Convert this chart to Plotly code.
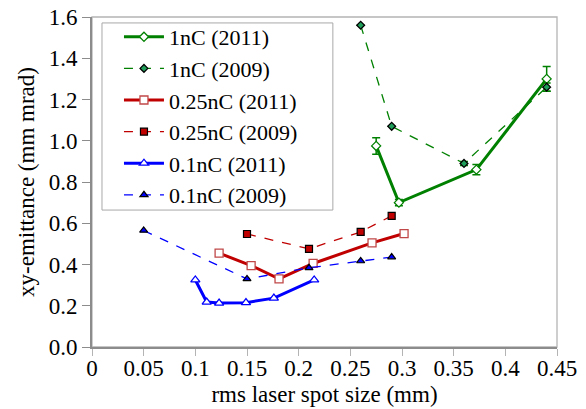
import plotly.graph_objects as go

# Emittance vs. rms laser spot size for three bunch charges, 2011 and 2009 runs
x_1nc_2011 = [0.275, 0.297, 0.372, 0.440]
y_1nc_2011 = [0.975, 0.700, 0.860, 1.300]
err_1nc_2011 = [0.040, 0.015, 0.025, 0.060]

x_1nc_2009 = [0.260, 0.290, 0.360, 0.440]
y_1nc_2009 = [1.560, 1.070, 0.890, 1.260]
err_1nc_2009 = [0.0, 0.0, 0.010, 0.020]

x_025_2011 = [0.123, 0.154, 0.181, 0.214, 0.271, 0.302]
y_025_2011 = [0.455, 0.395, 0.330, 0.405, 0.505, 0.550]

x_025_2009 = [0.150, 0.210, 0.260, 0.290]
y_025_2009 = [0.548, 0.476, 0.558, 0.636]

x_01_2011 = [0.100, 0.111, 0.123, 0.149, 0.176, 0.215]
y_01_2011 = [0.325, 0.218, 0.213, 0.215, 0.237, 0.325]

x_01_2009 = [0.050, 0.150, 0.210, 0.260, 0.290]
y_01_2009 = [0.565, 0.330, 0.384, 0.417, 0.436]

x_ticks = [0, 0.05, 0.1, 0.15, 0.2, 0.25, 0.3, 0.35, 0.4, 0.45]
x_tick_text = ["0", "0.05", "0.1", "0.15", "0.2", "0.25", "0.3", "0.35", "0.4", "0.45"]
y_ticks = [0.0, 0.2, 0.4, 0.6, 0.8, 1.0, 1.2, 1.4, 1.6]

GREEN = "#008000"
GREEN_FILL = "#1f9e5a"
RED = "#c00000"
RED_OPEN = "#c04848"
BLUE = "#0000ff"
FONT = "Liberation Serif, Times New Roman, serif"
FS = 23
LEG_FS = 22

fig = go.Figure()

fig.add_trace(go.Scatter(
    x=x_1nc_2011, y=y_1nc_2011, name="1nC (2011)", mode="lines+markers",
    line=dict(color=GREEN, width=3),
    marker=dict(symbol="diamond", size=7, color="white", line=dict(color=GREEN, width=1.3)),
    error_y=dict(type="data", array=err_1nc_2011, color=GREEN, thickness=1.5, width=4),
))
fig.add_trace(go.Scatter(
    x=x_1nc_2009, y=y_1nc_2009, name="1nC (2009)", mode="lines+markers",
    line=dict(color=GREEN, width=1.3, dash="dash"),
    marker=dict(symbol="diamond", size=6, color=GREEN_FILL, line=dict(color="black", width=1.3)),
    error_y=dict(type="data", array=err_1nc_2009, color=GREEN, thickness=1.3, width=4),
))
fig.add_trace(go.Scatter(
    x=x_025_2011, y=y_025_2011, name="0.25nC (2011)", mode="lines+markers",
    line=dict(color=RED, width=3),
    marker=dict(symbol="square", size=8, color="white", line=dict(color=RED_OPEN, width=1.3)),
))
fig.add_trace(go.Scatter(
    x=x_025_2009, y=y_025_2009, name="0.25nC (2009)", mode="lines+markers",
    line=dict(color=RED, width=1.3, dash="dash"),
    marker=dict(symbol="square", size=7, color=RED, line=dict(color="black", width=1.2)),
))
fig.add_trace(go.Scatter(
    x=x_01_2011, y=y_01_2011, name="0.1nC (2011)", mode="lines+markers",
    line=dict(color=BLUE, width=3),
    marker=dict(symbol="triangle-up", size=8, color="white", line=dict(color=BLUE, width=1.3)),
))
fig.add_trace(go.Scatter(
    x=x_01_2009, y=y_01_2009, name="0.1nC (2009)", mode="lines+markers",
    line=dict(color=BLUE, width=1.3, dash="dash"),
    marker=dict(symbol="triangle-up", size=7, color=BLUE, line=dict(color="black", width=1.2)),
))

# light frame around the plotting area
fig.add_shape(type="rect", xref="paper", yref="paper", x0=0, y0=0, x1=1, y1=1,
              line=dict(color="#b4b4b4", width=1.3), layer="below")
# legend box, drawn separately so it can be padded generously
fig.add_shape(type="rect", xref="paper", yref="paper", x0=0.0215, y0=0.415, x1=0.518, y1=0.982,
              line=dict(color="#a8a8a8", width=1), fillcolor="white", layer="above")

fig.update_layout(
    width=586, height=409,
    margin=dict(l=92, r=29, t=17, b=62, autoexpand=False),
    paper_bgcolor="white", plot_bgcolor="white",
    font=dict(family=FONT, size=FS, color="black"),
    showlegend=True,
    legend=dict(
        x=0.058, y=1.003, xanchor="left", yanchor="top",
        bgcolor="rgba(0,0,0,0)", borderwidth=0,
        font=dict(family=FONT, size=LEG_FS, color="black"),
        tracegroupgap=0, itemwidth=40,
    ),
    xaxis=dict(
        range=[0, 0.45], tickvals=x_ticks, ticktext=x_tick_text,
        showgrid=False, zeroline=False, automargin=False,
        showline=True, linecolor="#8c8c8c", linewidth=2,
        ticks="outside", ticklen=7, tickcolor="#b4b4b4", tickwidth=1.3,
        ticklabelstandoff=-8,
        title=dict(text="rms laser spot size (mm)", font=dict(family=FONT, size=FS), standoff=6),
        tickfont=dict(family=FONT, size=FS),
    ),
    yaxis=dict(
        range=[0, 1.6], tickvals=y_ticks, tickformat=".1f",
        showgrid=False, zeroline=False, automargin=False,
        showline=True, linecolor="#8c8c8c", linewidth=2,
        ticks="outside", ticklen=8, tickcolor="#8c8c8c", tickwidth=1.3,
        title=dict(text="xy-emittance (mm mrad)", font=dict(family=FONT, size=FS), standoff=8),
        tickfont=dict(family=FONT, size=FS),
    ),
)

fig.write_html("out.html")
